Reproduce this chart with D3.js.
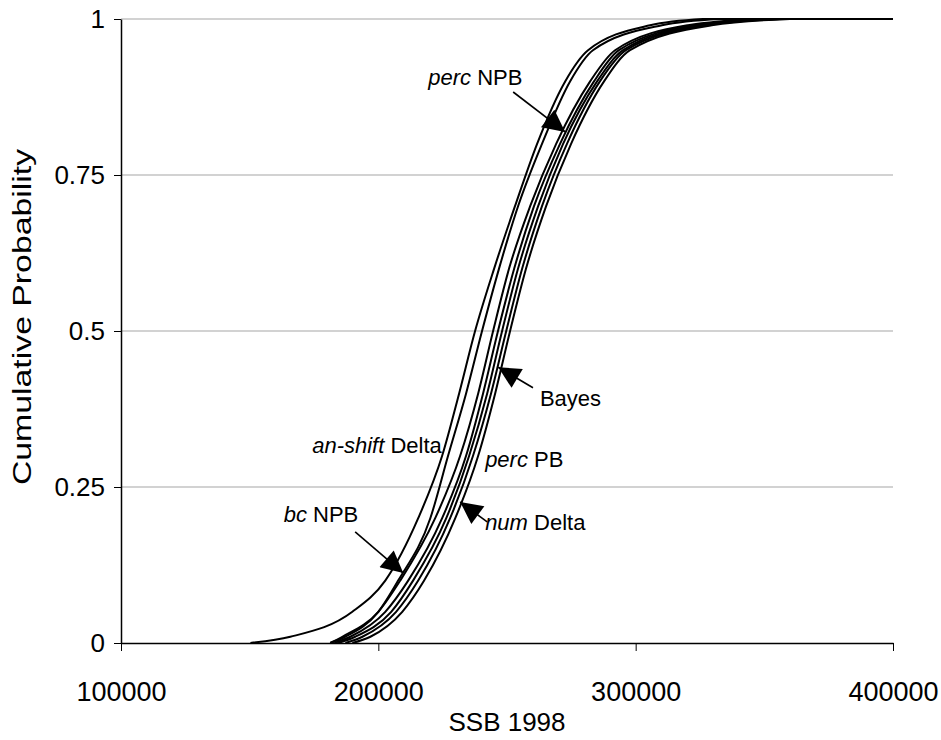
<!DOCTYPE html>
<html>
<head>
<meta charset="utf-8">
<script src="https://cdn.jsdelivr.net/npm/d3@7"></script>
<style>
body { margin: 0; background: #fff; }
text { font-family: "Liberation Sans", Arial, sans-serif; fill: #000; }
</style>
</head>
<body>
<div id="chart"></div>
<script>
// cumulative probability levels and the SSB value each curve reaches there
var probs = [0, 0.01, 0.05, 0.1, 0.2, 0.3, 0.4, 0.5, 0.6, 0.7, 0.8, 0.9, 0.95, 0.99, 1];

var bcNPB      = [150300, 165800, 189900, 202700, 215500, 224800, 231400, 237600, 245000, 253100, 261700, 272600, 281500, 305600, 326100];
var percNPB    = [181300, 187100, 200000, 207700, 220200, 227100, 234100, 240300, 246900, 254300, 263600, 274500, 283400, 310200, 332700];
var anShiftDel = [181300, 186000, 200000, 208500, 222100, 231800, 238800, 244600, 250800, 259000, 269100, 282300, 292000, 320300, 348300];
var numDelta   = [182900, 189100, 202700, 211600, 224800, 234100, 240700, 246500, 252800, 260500, 270600, 283800, 293500, 323000, 352100];
var percPB     = [184400, 191000, 205000, 213500, 226400, 235300, 242300, 248100, 254300, 262100, 271800, 285000, 295100, 325000, 354100];
var bayes      = [187200, 193800, 206900, 215500, 227900, 236800, 243800, 249700, 255900, 263600, 273300, 286100, 296200, 327300, 356000];
var delta      = [189900, 196900, 209300, 217800, 229900, 238800, 245400, 251200, 257400, 265200, 274900, 287700, 297800, 329600, 359900];

var seriesNames = ['bc NPB', 'perc NPB', 'an-shift Delta', 'num Delta', 'perc PB', 'Bayes', 'Delta'];
var seriesValues = [bcNPB, percNPB, anShiftDel, numDelta, percPB, bayes, delta];

var xTicks = [100000, 200000, 300000, 400000];
var yTicks = [0, 0.25, 0.5, 0.75, 1];
var yTickLabels = ['0', '0.25', '0.5', '0.75', '1'];

// labels: italic part, plain part, anchor point (ssb, prob)
var notes = [
  { it: 'perc', txt: 'NPB', x: 219400, p: 0.894, anchor: 'start' },
  { it: '', txt: 'Bayes', x: 262800, p: 0.380, anchor: 'start' },
  { it: 'an-shift', txt: 'Delta', x: 174300, p: 0.3045, anchor: 'start' },
  { it: 'perc', txt: 'PB', x: 241500, p: 0.282, anchor: 'start' },
  { it: 'bc', txt: 'NPB', x: 192200, p: 0.194, anchor: 'end' },
  { it: 'num', txt: 'Delta', x: 241500, p: 0.181, anchor: 'start' }
];

var arrows = [
  { x1: 252400, p1: 0.883, x2: 272600, p2: 0.819 },
  { x1: 260100, p1: 0.409, x2: 246600, p2: 0.442 },
  { x1: 242300, p1: 0.194, x2: 231800, p2: 0.226 },
  { x1: 191000, p1: 0.178, x2: 209700, p2: 0.112 }
];

var settings = {
  width: 941,
  height: 740,
  left: 121,
  top: 19,
  right: 48,
  bottom: 97
};

var x = d3.scaleLinear().domain([100000, 400000]).range([settings.left, settings.width - settings.right]);
var y = d3.scaleLinear().domain([0, 1]).range([settings.height - settings.bottom, settings.top]);

var svg = d3.select('#chart').append('svg')
  .attr('width', settings.width)
  .attr('height', settings.height);

svg.append('defs').append('marker')
  .attr('id', 'head')
  .attr('viewBox', '0 0 10 10')
  .attr('refX', 10)
  .attr('refY', 5)
  .attr('markerUnits', 'userSpaceOnUse')
  .attr('markerWidth', 25)
  .attr('markerHeight', 22)
  .attr('orient', 'auto')
  .append('path')
  .attr('d', 'M0,0L10,5L0,10Z')
  .attr('fill', '#000');

// grid
svg.append('g').selectAll('line')
  .data(yTicks.filter(function(d) { return d > 0; }))
  .enter().append('line')
  .attr('x1', x.range()[0])
  .attr('x2', x.range()[1])
  .attr('y1', function(d) { return y(d); })
  .attr('y2', function(d) { return y(d); })
  .attr('stroke', '#a6a6a6')
  .attr('stroke-width', 1.2);

var line = d3.line()
  .x(function(d) { return x(d[0]); })
  .y(function(d) { return y(d[1]); })
  .curve(d3.curveMonotoneX);

svg.append('g').selectAll('path')
  .data(seriesValues)
  .enter().append('path')
  .attr('class', function(d, i) { return 'cdf s' + i; })
  .attr('d', function(vals) {
    var pts = vals.map(function(v, i) { return [v, probs[i]]; });
    // each curve stays at 1 up to the end of the axis
    return line(pts) + 'L' + x.range()[1] + ',' + y(1);
  })
  .attr('fill', 'none')
  .attr('stroke', '#000')
  .attr('stroke-width', 2);

// axes
var xAxis = svg.append('g')
  .attr('transform', 'translate(0,' + y(0) + ')')
  .call(d3.axisBottom(x).tickValues(xTicks).tickFormat(d3.format('d')).tickSize(8).tickSizeOuter(0).tickPadding(31));
xAxis.selectAll('text').style('font-size', '27px');
xAxis.select('.domain').attr('stroke-width', 1.5);

var yAxis = svg.append('g')
  .attr('transform', 'translate(' + x(100000) + ',0)')
  .call(d3.axisLeft(y).tickValues(yTicks).tickFormat(function(d, i) { return yTickLabels[i]; }).tickSize(7).tickSizeOuter(0).tickPadding(9));
yAxis.selectAll('text').style('font-size', '26px');
yAxis.select('.domain').attr('stroke-width', 1.5);

svg.append('text')
  .attr('x', (x.range()[0] + x.range()[1]) / 2)
  .attr('y', 731)
  .attr('text-anchor', 'middle')
  .style('font-size', '26px')
  .text('SSB 1998');

svg.append('text')
  .attr('transform', 'translate(31,317) rotate(-90) scale(1.3,1)')
  .attr('text-anchor', 'middle')
  .style('font-size', '26px')
  .text('Cumulative Probability');

// annotations
svg.append('g').selectAll('line')
  .data(arrows)
  .enter().append('line')
  .attr('x1', function(d) { return x(d.x1); })
  .attr('y1', function(d) { return y(d.p1); })
  .attr('x2', function(d) { return x(d.x2); })
  .attr('y2', function(d) { return y(d.p2); })
  .attr('stroke', '#000')
  .attr('stroke-width', 1.6)
  .attr('marker-end', 'url(#head)');

var note = svg.append('g').selectAll('text')
  .data(notes)
  .enter().append('text')
  .attr('x', function(d) { return x(d.x); })
  .attr('y', function(d) { return y(d.p); })
  .attr('text-anchor', function(d) { return d.anchor; })
  .style('font-size', '22px');

note.append('tspan')
  .style('font-style', 'italic')
  .text(function(d) { return d.it ? d.it + ' ' : ''; });
note.append('tspan')
  .text(function(d) { return d.txt; });
</script>
</body>
</html>
